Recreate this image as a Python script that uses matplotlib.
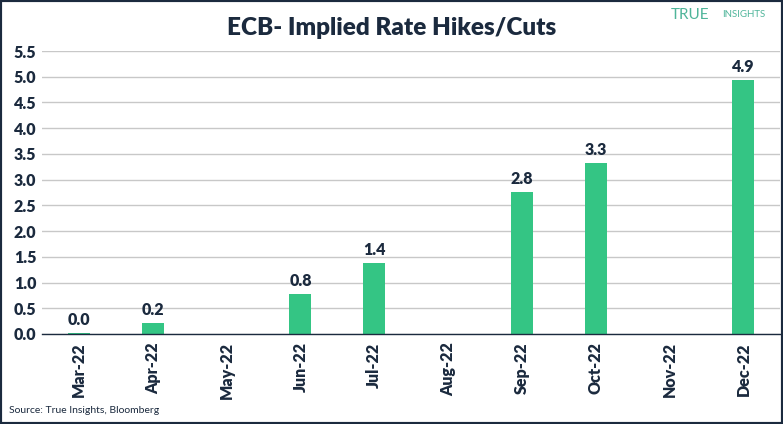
import matplotlib.pyplot as plt
from matplotlib.patches import Rectangle

# Datos
meses = ["Mar-22", "Apr-22", "May-22", "Jun-22", "Jul-22",
         "Aug-22", "Sep-22", "Oct-22", "Nov-22", "Dec-22"]
subidas = [0.02, 0.22, None, 0.78, 1.37, None, 2.76, 3.33, None, 4.93]
etiquetas = ["0.0", "0.2", None, "0.8", "1.4", None, "2.8", "3.3", None, "4.9"]
y_ticks = [0.0, 0.5, 1.0, 1.5, 2.0, 2.5, 3.0, 3.5, 4.0, 4.5, 5.0, 5.5]

navy = "#1b2a3e"
verde = "#34c584"

plt.rcParams['font.family'] = ['Lato', 'DejaVu Sans']

fig = plt.figure(figsize=(7.83, 4.24), dpi=100)
ax = fig.add_axes([0.0536, 0.2123, 0.943, 0.6674])

# Barras
for i, (v, t) in enumerate(zip(subidas, etiquetas)):
    if v is None:
        continue
    ax.bar(i, v, width=0.3, color=verde, zorder=3)
    ax.text(i, v + 0.1, t, ha='center', va='bottom', fontsize=11.5,
            fontweight='heavy', color=navy)

ax.set_xlim(-0.5, len(meses) - 0.5)
ax.set_ylim(0, 5.5)
ax.set_xticks(range(len(meses)))
ax.set_xticklabels(meses, rotation=90, fontsize=11.5, fontweight='heavy', color=navy)
ax.set_yticks(y_ticks)
ax.set_yticklabels([f"{y:.1f}" for y in y_ticks], fontsize=11.5,
                   fontweight='heavy', color=navy)
ax.tick_params(length=0, pad=6)
ax.tick_params(axis='y', pad=4)

ax.grid(axis='y', color='#c8c8c8', linewidth=1, zorder=0)
for s in ['top', 'right', 'left']:
    ax.spines[s].set_visible(False)
ax.spines['bottom'].set_color(navy)
ax.spines['bottom'].set_linewidth(1)
ax.spines['bottom'].set_zorder(4)

# Título y textos
fig.text(0.5, 0.935, "ECB- Implied Rate Hikes/Cuts", ha='center', va='center',
         fontsize=17.5, fontweight='heavy', color=navy)
fig.text(0.857, 0.965, "TRUE", ha='left', va='center', fontsize=11,
         color='#4fb59a')
fig.text(0.922, 0.965, "INSIGHTS", ha='left', va='center', fontsize=7,
         color='#4fb59a')
fig.text(0.012, 0.033, "Source: True Insights, Bloomberg", ha='left', va='center',
         fontsize=7.5, color=navy)

# Marco
fig.patches.append(Rectangle((0, 0), 1, 1, transform=fig.transFigure,
                             fill=False, edgecolor=navy, linewidth=3))

fig.savefig("out.png", dpi=100)
